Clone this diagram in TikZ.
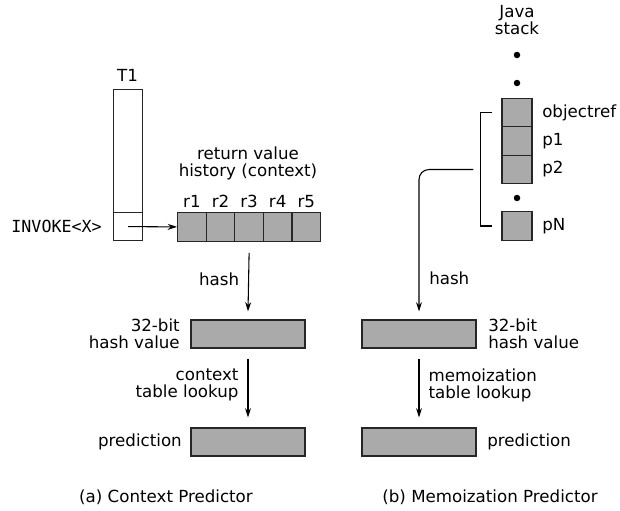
\documentclass[tikz,border=0pt]{standalone}
\usepackage{fontspec}
\setmainfont{DejaVu Sans}
\setmonofont{DejaVu Sans Mono}
\usepackage{tikz}
\usetikzlibrary{arrows.meta, positioning}

\definecolor{cellgray}{HTML}{AAAAAA}
\def\px{0.75pt}

\tikzset{
  lbl/.style={font=\fontsize{12.5}{12.8}\selectfont, inner sep=0pt, align=center},
  cell/.style={draw=black!85, fill=cellgray, line width=0.9pt, inner sep=0pt,
               minimum width=28.6*\px, minimum height=28.6*\px},
  wbox/.style={cell, minimum width=114*\px, minimum height=28*\px},
  col/.style={draw=black!85, fill=white, line width=0.9pt, inner sep=0pt,
              minimum width=29*\px, anchor=north west},
  dot/.style={circle, fill=black, inner sep=0pt, minimum size=6.5*\px},
  arr/.style={-{Stealth[length=7pt, width=4.5pt]}, line width=0.8pt}
}

\begin{document}
\begin{tikzpicture}[x=0.75pt, y=-0.75pt]
\useasboundingbox (0,0) rectangle (620,510);

% (a) Контекстный предиктор
% Стек потока T1
\node[col, minimum height=123*\px] (t1) at (113,89) {};
\node[col, minimum height=28*\px] (slot) at (113,212) {};
\node[lbl] (t1lab) at (127.5,75) {T1};
\node[lbl, font=\fontsize{12.5}{12.8}\selectfont\ttfamily, anchor=east] (invoke) at (102,226) {INVOKE<X>};

% История возвращаемых значений r1..r5
\foreach \i in {1,...,5} {
  \node[cell, anchor=north west] (r\i) at ({177+(\i-1)*28.6},212) {};
  \node[lbl, above=3pt of r\i] (r\i lab) {r\i};
}
\node[lbl] (hist) at (248,163.5) {return value\\history (context)};

\draw[arr] (slot.center) -- (r1.west);

% Хеш и предсказание
\node[wbox] (hv) at (248,334) {};
\node[wbox] (pr) at (248,442) {};
\node[lbl, align=right, anchor=east] (hvlab) at (180,334) {32-bit\\hash value};
\node[lbl, anchor=east] (prlab) at (182,442) {prediction};

\draw[arr] ([yshift=-11*\px]r3.south) -- ([yshift=8*\px]hv.north)
  node[lbl, pos=0.45, left=9*\px] (hashlab) {hash};
\draw[arr] ([yshift=-10*\px]hv.south) -- ([yshift=10*\px]pr.north)
  node[lbl, align=right, pos=0.45, left=9*\px] (ctxlab) {context\\table lookup};

\node[lbl] (capa) at (166,497) {(a) Context Predictor};

% (b) Мемоизационный предиктор
% Стек Java
\node[lbl] (java) at (517,20.5) {Java\\stack};
\node[dot] (d1) at (517,55) {};
\node[dot] (d2) at (517,83) {};
\node[cell, minimum width=30*\px] (oref) at (517,112.5) {};
\node[cell, minimum width=30*\px] (p1) at (517,141) {};
\node[cell, minimum width=30*\px] (p2) at (517,169.5) {};
\node[dot] (d3) at (517,198) {};
\node[cell, minimum width=30*\px] (pn) at (517,226) {};

\node[lbl, anchor=west] (oreflab) at (542,112.5) {objectref};
\node[lbl, anchor=west] (p1lab) at (542,141) {p1};
\node[lbl, anchor=west] (p2lab) at (542,169.5) {p2};
\node[lbl, anchor=west] (pnlab) at (542,226) {pN};

% Скобка аргументов
\draw[line width=0.8pt] ([xshift=-9*\px]oref.west) -- ([xshift=-21*\px]oref.west)
  |- ([xshift=-9*\px]pn.west);
\coordinate (brk) at ([xshift=-28*\px]p2.west);

% Хеш и предсказание
\node[wbox] (mhv) at (419,334) {};
\node[wbox] (mpr) at (419,442) {};
\node[lbl, align=left, anchor=west] (mhvlab) at (488,334) {32-bit\\hash value};
\node[lbl, anchor=west] (mprlab) at (487,442) {prediction};

\draw[arr, rounded corners=10*\px] (brk) -| ([yshift=8*\px]mhv.north);
\node[lbl, anchor=west] (mhashlab) at (429,278) {hash};
\draw[arr] ([yshift=-10*\px]mhv.south) -- ([yshift=10*\px]mpr.north)
  node[lbl, align=left, pos=0.45, right=9*\px] (memlab) {memoization\\table lookup};

\node[lbl] (capb) at (490,497) {(b) Memoization Predictor};

\end{tikzpicture}
\end{document}
